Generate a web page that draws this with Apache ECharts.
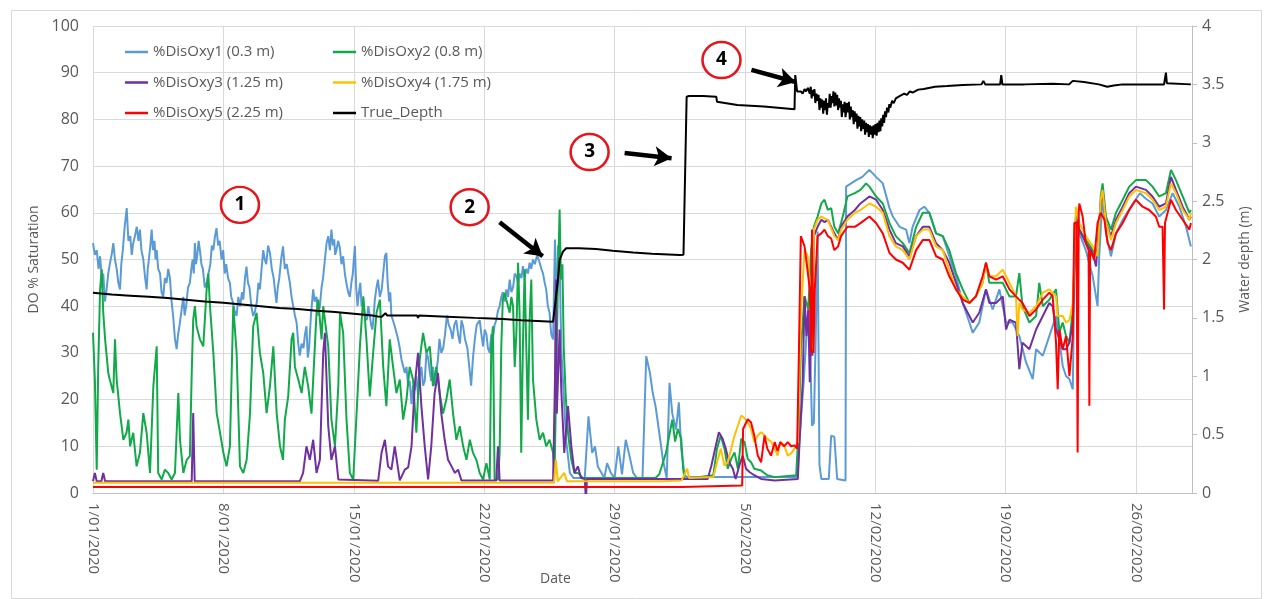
<!DOCTYPE html>
<html>
<head>
<meta charset="utf-8">
<script src="https://cdn.jsdelivr.net/npm/echarts@6/dist/echarts.min.js"></script>
<style>
html,body{margin:0;padding:0;background:#fff;}
#chart{width:1269px;height:599px;}
</style>
</head>
<body>
<div id="chart"></div>
<script>
// x values are days since 1/01/2020
const xTickLabels = ['1/01/2020','8/01/2020','15/01/2020','22/01/2020','29/01/2020','5/02/2020','12/02/2020','19/02/2020','26/02/2020'];

const disOxy1 = [[0,53.5],[0.1,51],[0.2,52],[0.3,48],[0.38,50.7],[0.47,46],[0.55,47],[0.64,41],[0.73,43.6],[0.82,47],[0.9,49],[1,51],[1.09,53.5],[1.18,50],[1.27,48],[1.36,45],[1.45,43.6],[1.52,49],[1.6,52],[1.7,57],[1.81,61],[1.9,54],[2,55],[2.08,51],[2.16,53.5],[2.25,55],[2.35,57],[2.44,54],[2.52,56.4],[2.6,52],[2.7,50],[2.8,46],[2.88,43.6],[2.94,48],[3,50],[3.08,53],[3.15,56.4],[3.22,52],[3.3,54],[3.36,50],[3.42,52],[3.5,48],[3.6,47],[3.68,43],[3.77,42],[3.86,46],[3.95,45],[4.04,48],[4.13,46],[4.22,41],[4.3,38],[4.4,33],[4.49,30.8],[4.57,34],[4.65,36],[4.75,39],[4.85,42],[4.92,38],[5,40],[5.1,44],[5.2,45],[5.28,48],[5.35,50],[5.41,47],[5.47,53.5],[5.53,49],[5.6,51],[5.67,54],[5.74,52],[5.82,49],[5.9,48],[6,44],[6.1,45],[6.2,47],[6.3,49],[6.38,53],[6.46,52],[6.55,55],[6.63,56.7],[6.72,53],[6.8,54],[6.9,50],[6.99,52],[7.07,47],[7.15,49],[7.25,46],[7.35,45],[7.42,42],[7.5,41],[7.6,39],[7.71,37.9],[7.8,42],[7.9,40],[8,43],[8.07,41.4],[8.16,46],[8.24,48.5],[8.32,45],[8.4,44],[8.5,40],[8.6,37.9],[8.7,39],[8.8,41],[8.88,45],[8.96,43.6],[9.05,48],[9.14,52],[9.22,50],[9.3,49],[9.4,53],[9.5,51.4],[9.6,48],[9.7,46],[9.78,43],[9.85,40.7],[9.92,44],[10,46],[10.1,50],[10.2,52.8],[10.3,48],[10.4,49],[10.48,47],[10.57,45],[10.66,42],[10.75,40],[10.84,38],[10.93,36.5],[11.02,32],[11.1,29.4],[11.2,32],[11.3,31],[11.38,34],[11.46,35.7],[11.53,29],[11.6,31],[11.7,38],[11.82,43.6],[11.9,41],[12,42],[12.09,38],[12.18,40],[12.27,44],[12.35,46],[12.45,50],[12.54,53.5],[12.63,55],[12.72,52],[12.8,56.4],[12.88,53],[12.95,54.3],[13,51],[13.07,52],[13.16,54],[13.25,52.5],[13.34,49],[13.43,50.7],[13.52,47],[13.6,45],[13.7,43],[13.79,42],[13.87,45],[13.95,47],[14,50],[14.06,52.9],[14.13,44],[14.2,40],[14.28,43],[14.35,45],[14.42,40],[14.5,41.4],[14.6,38],[14.7,37],[14.78,40],[14.86,38],[14.93,36],[15,35],[15.07,38],[15.13,41.4],[15.22,44],[15.3,45.7],[15.4,42],[15.5,43.6],[15.58,47],[15.67,50.7],[15.75,51.4],[15.82,45],[15.9,41],[15.96,43],[16.02,38],[16.1,37],[16.2,35.7],[16.3,36],[16.38,32.9],[16.47,31],[16.56,28.6],[16.65,29],[16.74,25.7],[16.83,27],[16.92,22.9],[17,24],[17.1,19],[17.18,23],[17.27,22],[17.36,25],[17.45,21],[17.54,25],[17.63,27],[17.72,23],[17.81,24],[17.9,30],[17.99,29],[18.08,26],[18.16,24],[18.25,27],[18.34,23],[18.43,26],[18.52,28.6],[18.6,33],[18.7,30],[18.8,31],[18.9,34],[19,38],[19.1,36],[19.2,35],[19.3,33],[19.4,36],[19.5,37],[19.6,34],[19.7,32],[19.78,37],[19.87,35.7],[19.97,33],[20.1,31],[20.2,27],[20.3,23],[20.4,29],[20.5,33],[20.6,36],[20.76,37],[20.85,34],[20.94,31.4],[21.03,35],[21.12,34],[21.2,31],[21.3,30],[21.38,34],[21.47,33],[21.56,36],[21.65,37],[21.74,39],[21.83,40],[21.92,42],[22,43],[22.1,41],[22.19,43.6],[22.28,42],[22.37,45.7],[22.46,43],[22.55,44],[22.64,47],[22.73,46.4],[22.82,45],[22.9,47],[23,46],[23.08,48.6],[23.17,46],[23.26,48],[23.35,47],[23.44,49.3],[23.53,48],[23.62,50],[23.72,49],[23.85,51],[23.92,50],[23.98,49.3],[24.07,48],[24.16,47],[24.25,45],[24.33,43.6],[24.42,40],[24.51,38.6],[24.6,34],[24.7,32.9],[24.8,54.3],[24.87,37],[24.96,53],[25.05,50],[25.14,31],[25.23,24],[25.4,11.4],[25.6,4.3],[25.8,3.2],[26.4,3.2],[26.6,16.4],[26.8,8.6],[26.95,10],[27.1,5.7],[27.3,4.3],[27.45,3.2],[27.6,6.4],[27.8,4.3],[28,3.2],[28.2,10],[28.4,4],[28.6,11.4],[28.8,8],[29,4.3],[29.2,3.2],[29.5,3.2],[29.7,29.3],[29.9,25.7],[30.05,21.4],[30.2,18.6],[30.4,12.9],[30.6,7],[30.8,3.2],[30.95,23.6],[31.1,17],[31.3,13.6],[31.45,19.4],[31.58,9.5],[31.76,3.8],[31.9,3.4],[37.8,3.4],[37.99,15],[38.15,23.7],[38.3,33.6],[38.4,39],[38.5,30.8],[38.6,14.4],[38.7,15],[38.8,33.6],[38.9,56],[39,6],[39.1,3],[39.5,3],[39.63,12.3],[39.8,12],[39.95,3],[40.4,2.7],[40.43,65.6],[40.97,67],[41.3,67.7],[41.68,69.2],[42.04,67.7],[42.4,66.3],[42.76,61],[42.94,59.2],[43.3,57],[43.65,56.4],[43.83,53.5],[44,57],[44.37,60.6],[44.63,61.3],[44.9,60],[45.26,55.6],[45.62,55],[45.97,50.7],[46.33,46.4],[46.69,40.7],[47.05,36.5],[47.23,34.3],[47.58,36.5],[47.94,43.6],[48.3,39.3],[48.66,43.6],[48.84,40],[49.02,36.5],[49.37,36.5],[49.73,33.6],[50.09,28],[50.45,24.4],[50.63,30.8],[50.99,29.4],[51.34,33.6],[51.7,37.9],[52.06,27.2],[52.24,25],[52.42,24.4],[52.6,22.2],[52.68,45],[52.77,59.2],[52.95,55.6],[53.3,52],[53.67,46.4],[53.93,40],[54.02,50.7],[54.2,63.5],[54.38,55.6],[54.65,50.7],[54.92,55.6],[55.28,58.5],[55.83,62],[56.2,64.2],[56.53,63],[56.88,62],[57.24,59.2],[57.6,60.6],[57.96,64.2],[58.32,61.3],[58.68,57],[58.94,52.8]];

const disOxy2 = [[0,34.3],[0.1,24.3],[0.2,5],[0.28,27],[0.38,43.6],[0.47,47.9],[0.55,38.6],[0.65,32.9],[0.82,25.7],[0.9,24.3],[1.09,21.4],[1.18,32.9],[1.27,24.3],[1.45,17.1],[1.63,11.4],[1.8,12.9],[1.9,15.7],[1.99,10],[2.16,12.9],[2.34,5.7],[2.52,8.6],[2.7,17.1],[2.88,12.9],[3.06,4.3],[3.24,22.9],[3.42,31.4],[3.5,4.3],[3.69,2.9],[3.86,5],[4.04,4.3],[4.22,2.9],[4.4,4.3],[4.58,21.4],[4.67,11.4],[4.85,4.3],[5.03,7.1],[5.2,7.9],[5.3,25.7],[5.38,37.1],[5.47,40],[5.56,35.7],[5.74,32.9],[5.92,31.4],[6.1,43.6],[6.19,47],[6.28,40],[6.46,30],[6.64,17.1],[6.82,12.9],[7,8.6],[7.17,5.7],[7.35,10],[7.53,40],[7.71,30],[7.89,5.7],[8.07,4.3],[8.25,7.1],[8.43,17.1],[8.6,35.7],[8.78,38.6],[8.96,30],[9.14,25.7],[9.32,17.1],[9.5,22.9],[9.68,31.4],[9.86,17.1],[10.04,10],[10.2,7.1],[10.3,15.7],[10.48,20.7],[10.66,32.9],[10.75,34.3],[10.84,27],[11.02,24.3],[11.2,21.4],[11.37,27],[11.55,22.9],[11.73,17],[11.91,31.4],[12,38.6],[12.09,41.4],[12.27,32.9],[12.36,40],[12.45,37],[12.63,31.4],[12.8,15.7],[12.99,10],[13.17,22.9],[13.26,38.6],[13.43,34.3],[13.61,15.7],[13.79,4.3],[13.97,2.9],[14.15,17],[14.33,31.4],[14.51,42.1],[14.68,32.9],[14.86,20.7],[15.04,30],[15.22,38.6],[15.4,41.4],[15.58,27],[15.75,18.6],[15.93,32.9],[16.11,27],[16.29,21.4],[16.47,24.3],[16.65,15.7],[16.83,20],[17,27],[17.18,24.3],[17.36,12.9],[17.54,28.6],[17.72,34.3],[17.9,30],[18.08,31.4],[18.25,22.9],[18.43,27],[18.61,21.4],[18.79,17],[18.97,20],[19.15,24.3],[19.33,17],[19.51,11.4],[19.69,14.3],[19.87,10],[20.05,7.1],[20.23,11.4],[20.4,8.6],[20.58,7.1],[20.76,4.3],[20.94,2.9],[21.12,6.4],[21.3,2.9],[21.38,31.4],[21.47,35.7],[21.56,2.9],[21.74,2.9],[21.83,8.6],[21.92,31.4],[22,41.4],[22.1,42.9],[22.19,41.4],[22.37,38.6],[22.46,42],[22.55,40],[22.64,27],[22.73,34.3],[22.82,49.3],[22.9,38.6],[22.99,8.6],[23.08,31.4],[23.17,47.9],[23.26,31.4],[23.35,15.7],[23.44,37],[23.53,45.7],[23.62,24.3],[23.8,15.7],[23.98,11.4],[24.16,12.9],[24.33,10],[24.51,11.4],[24.7,8.6],[24.78,4.3],[24.9,31.4],[24.96,45.7],[25.05,60.7],[25.12,45.7],[25.2,49],[25.27,31.4],[25.37,21.4],[25.5,12.9],[25.68,7.1],[25.85,4.3],[26.03,4.3],[26.3,3.2],[30.2,3.2],[30.4,4],[30.76,8.6],[31.1,15.7],[31.25,11],[31.4,13.7],[31.58,11.6],[31.68,5.2],[31.76,3],[33.3,3.8],[33.5,9.5],[33.7,12.3],[33.9,9.5],[34.08,5.2],[34.26,7.3],[34.44,8.7],[34.62,5.2],[34.8,11.6],[34.98,10.9],[35.15,7.3],[35.33,6.6],[35.5,5.2],[35.87,4.8],[36.2,3.8],[36.6,3.4],[37.75,3.8],[37.9,15.1],[38,30.8],[38.2,42.1],[38.4,39.3],[38.55,52],[38.7,57],[38.9,59.2],[39.1,62],[39.27,62.8],[39.45,60.6],[39.63,61],[39.8,57],[40,55.6],[40.16,57.8],[40.3,60],[40.5,63.5],[40.9,64.2],[41.2,64.9],[41.5,66.3],[41.68,65.6],[42.04,63.5],[42.4,62],[42.76,57.8],[43.1,55],[43.47,53.5],[43.83,51.4],[44.19,57],[44.55,60],[44.9,60],[45.26,55.6],[45.62,55],[45.97,52],[46.33,47.1],[46.69,43.6],[47.05,40.7],[47.4,42.1],[47.76,45],[47.94,49.3],[48.12,45],[48.48,45],[48.84,45],[49.2,42.1],[49.55,42.1],[49.73,47.1],[49.9,40],[50.27,36.5],[50.63,37.9],[50.8,45],[50.99,40],[51.34,41.4],[51.7,43.6],[51.88,34.5],[52.06,36.5],[52.24,33.6],[52.42,32.2],[52.6,39.3],[52.77,59.2],[52.95,56.4],[53.3,54.2],[53.67,52],[53.93,50.7],[54.1,63.5],[54.2,66.3],[54.38,59.2],[54.65,56.4],[54.92,60],[55.28,62.8],[55.63,65.6],[55.99,67],[56.53,67],[56.88,65.6],[57.24,63.5],[57.6,64.2],[57.87,69.2],[58.14,67],[58.5,63.5],[58.86,60],[58.94,60.6]];

const disOxy3 = [[0,2.5],[0.1,4.3],[0.2,2.5],[0.45,2.5],[0.55,4.3],[0.65,2.5],[5.3,2.5],[5.38,17.1],[5.46,2.5],[11.1,2.5],[11.28,4.3],[11.46,10],[11.64,7.1],[11.82,11.4],[12,4.3],[12.18,7.1],[12.36,30],[12.45,34.3],[12.63,14.3],[12.8,7.1],[12.99,10],[13.17,2.9],[15.31,2.6],[15.49,8.6],[15.67,11.4],[15.84,5.7],[16.02,5],[16.2,10],[16.47,2.7],[16.74,5],[16.92,5.5],[17.1,10],[17.27,22.9],[17.45,30],[17.63,18.6],[17.81,10],[17.99,2.9],[18.16,10],[18.34,21.4],[18.52,25.7],[18.7,17],[18.88,11.4],[19.06,7.1],[19.25,5.7],[19.43,4.3],[19.6,5],[19.78,2.7],[21.65,2.7],[21.74,10],[21.83,2.7],[24.7,2.7],[24.8,24],[24.85,45.7],[24.9,17],[25.05,35],[25.14,22],[25.3,8.6],[25.5,18.6],[25.68,10],[25.85,4.3],[26.03,5.7],[26.2,3.2],[26.4,3],[26.46,-1.4],[26.52,3],[33,3],[33.2,5.9],[33.4,9.5],[33.6,13],[33.8,11.6],[33.97,9.5],[34.15,6.6],[34.35,5.2],[34.5,3],[34.7,5.9],[34.88,8],[35.06,5.2],[35.24,4.5],[35.5,3.8],[35.87,3],[36.6,2.7],[37.84,3],[37.93,10.9],[38.1,23.7],[38.2,42.1],[38.3,33.6],[38.4,39.3],[38.48,23.7],[38.55,35],[38.62,29.4],[38.7,55],[38.9,57],[39.1,58.5],[39.27,58],[39.45,58.5],[39.8,55.6],[40,54.2],[40.16,57],[40.5,59.2],[40.9,60.6],[41.2,62],[41.68,63.5],[42.04,62.8],[42.4,60.6],[42.76,56.4],[43.1,53.5],[43.47,52.8],[43.83,50.7],[44.19,55],[44.55,57],[44.9,57],[45.26,53.5],[45.62,52],[45.97,49.3],[46.33,45],[46.69,40.7],[47.05,37.9],[47.23,36.5],[47.58,38.6],[47.94,43.6],[48.12,40.7],[48.48,40.7],[48.84,42.1],[49.02,35],[49.2,37.1],[49.55,36.5],[49.73,26.5],[49.9,32.2],[50.27,30.8],[50.63,35],[50.99,37.9],[51.34,40.7],[51.52,40],[51.7,35],[52.06,30.8],[52.24,30.8],[52.42,32.2],[52.6,36.5],[52.77,59.2],[52.95,56.4],[53.3,53.5],[53.67,51.4],[53.85,48.5],[54.1,62],[54.2,64.9],[54.38,57.8],[54.65,55],[54.92,58.5],[55.28,61.3],[55.63,64.2],[55.99,65.6],[56.53,64.9],[56.88,63.5],[57.24,61.3],[57.6,62],[57.87,67.7],[58.14,64.9],[58.5,61.3],[58.86,58.5],[58.94,59.2]];

const disOxy4 = [[0,2.2],[24.75,2.2],[24.85,7.1],[24.95,2.5],[25.3,4.3],[25.45,2.5],[30.5,2.5],[31.6,2.7],[31.9,5.2],[32,3.2],[33.3,3.4],[33.5,6.6],[33.7,9.5],[33.9,5.9],[34.08,6.6],[34.26,9.5],[34.44,12.3],[34.62,14.4],[34.8,16.6],[34.98,16],[35.15,15.1],[35.33,13.7],[35.5,10.9],[35.69,12.3],[35.87,13],[36.05,12.3],[36.2,11.6],[36.4,11],[36.6,9.5],[36.75,8],[36.9,10.9],[37.1,10.3],[37.3,8],[37.48,8.5],[37.66,9.5],[37.84,10.9],[38,37.9],[38.2,52],[38.37,50.7],[38.55,39.3],[38.62,30.8],[38.7,56.4],[38.9,58.5],[39.1,59.2],[39.27,58.8],[39.45,58.5],[39.8,55],[40,54.2],[40.16,56.4],[40.5,58.5],[40.9,60],[41.2,60.6],[41.68,62],[42.04,61.3],[42.4,60],[42.76,55],[43.1,52.8],[43.47,52],[43.83,50],[44.19,55],[44.55,56.4],[44.9,56.4],[45.26,52.8],[45.62,52],[45.97,47.8],[46.33,43.6],[46.69,42.1],[47.05,40.7],[47.4,42.1],[47.76,45],[47.94,49.3],[48.12,46.4],[48.48,46.4],[48.84,47.8],[49.2,45],[49.55,42.1],[49.64,33.6],[49.73,40.7],[49.9,39.3],[50.27,38.6],[50.63,40],[50.99,42.9],[51.34,43.6],[51.7,42.1],[51.79,37.9],[52.06,37.9],[52.24,36.5],[52.42,37],[52.6,40.7],[52.77,61.3],[52.95,57.8],[53.3,55],[53.67,52.8],[53.93,50.7],[54.1,62.8],[54.2,64.9],[54.38,57.8],[54.65,54.2],[54.92,57.8],[55.28,60.6],[55.63,63.5],[55.99,64.9],[56.53,64.2],[56.88,62.8],[57.24,60.6],[57.6,61.3],[57.87,66.3],[58.14,64.2],[58.5,60.6],[58.86,58.5],[58.94,60]];

const disOxy5 = [[0,1.3],[31.6,1.3],[31.7,1.6],[34.85,1.6],[34.9,13.7],[35.15,15.8],[35.33,15.1],[35.5,12.3],[35.69,8],[35.87,6.6],[36.05,12.3],[36.2,9.5],[36.4,8],[36.6,10.9],[36.75,9],[36.9,10.9],[37.1,10],[37.3,10.9],[37.48,10],[37.66,10.2],[37.8,9.5],[37.9,30.8],[38,55],[38.2,52.8],[38.4,46.4],[38.48,43.6],[38.55,30],[38.6,56.4],[38.68,30],[38.75,43.6],[38.9,55],[39.1,55.6],[39.27,56.4],[39.45,55],[39.63,54.5],[39.8,52],[40,52.8],[40.16,55],[40.5,57],[40.9,57],[41.2,57.8],[41.68,59.2],[42.04,57.8],[42.4,55.6],[42.76,51.4],[43.1,50],[43.47,49.3],[43.83,47.8],[44.19,52],[44.55,54.2],[44.9,54.2],[45.26,50.7],[45.62,50],[45.97,46.4],[46.33,43.6],[46.69,41.4],[47.05,40.7],[47.4,42.1],[47.76,46.4],[47.94,49.3],[48.12,46.4],[48.48,45.7],[48.84,46.4],[49.2,43.6],[49.55,42.1],[49.9,40.7],[50.27,37.9],[50.63,39.3],[50.99,41.4],[51.34,42.9],[51.52,42.1],[51.7,32.2],[51.79,22.2],[51.88,35],[52.06,30.8],[52.24,33.6],[52.42,25],[52.6,33.6],[52.68,57.8],[52.8,58],[52.86,8.7],[52.92,60],[52.95,62],[53.13,59.2],[53.3,53.5],[53.45,52],[53.49,18.7],[53.53,52],[53.75,50],[53.93,57.8],[54.1,60],[54.3,58.5],[54.47,53.5],[54.65,52],[54.92,55.6],[55.28,57.8],[55.63,60.6],[55.99,62.8],[56.35,61.3],[56.7,60.6],[57.06,59.2],[57.24,57],[57.42,57],[57.5,39.3],[57.55,57.8],[57.87,62.8],[58.14,60.6],[58.5,58.5],[58.86,56.4],[58.94,57.8]];

const trueDepth = [[0,1.716],[1,1.7],[2,1.69],[3,1.68],[4,1.67],[5,1.655],[6,1.64],[7,1.63],[8,1.615],[9,1.6],[10,1.585],[11,1.575],[12,1.56],[13,1.55],[14,1.535],[15,1.52],[15.3,1.512],[15.5,1.51],[15.7,1.54],[15.8,1.52],[16.5,1.52],[17.4,1.52],[17.45,1.5],[17.5,1.52],[19,1.51],[20.5,1.5],[21.04,1.497],[22,1.49],[23,1.48],[24.7,1.467],[24.8,1.47],[24.96,1.824],[25.05,1.996],[25.23,2.067],[25.4,2.096],[26.1,2.096],[27,2.09],[27.9,2.075],[29,2.06],[30,2.05],[31.5,2.039],[31.7,2.04],[31.87,3.394],[32,3.4],[32.74,3.4],[33.46,3.394],[33.5,3.352],[34.59,3.323],[36.02,3.31],[37.66,3.286],[37.7,3.58],[37.8,3.44],[38,3.44],[38.1,3.42],[38.2,3.46],[38.28,3.44],[38.38,3.47],[38.48,3.42],[38.53,3.48],[38.58,3.38],[38.63,3.45],[38.68,3.4],[38.73,3.46],[38.78,3.34],[38.84,3.42],[38.9,3.36],[38.95,3.41],[39,3.28],[39.05,3.38],[39.1,3.3],[39.15,3.37],[39.2,3.25],[39.25,3.36],[39.3,3.28],[39.35,3.38],[39.4,3.24],[39.45,3.34],[39.5,3.3],[39.55,3.42],[39.6,3.3],[39.65,3.4],[39.7,3.34],[39.75,3.44],[39.8,3.31],[39.85,3.43],[39.9,3.32],[39.95,3.41],[40,3.28],[40.05,3.38],[40.1,3.3],[40.15,3.36],[40.2,3.22],[40.25,3.33],[40.3,3.26],[40.35,3.35],[40.4,3.22],[40.47,3.34],[40.53,3.26],[40.58,3.35],[40.63,3.2],[40.68,3.31],[40.73,3.22],[40.78,3.28],[40.84,3.16],[40.89,3.27],[40.94,3.18],[40.99,3.25],[41.04,3.12],[41.09,3.23],[41.14,3.14],[41.19,3.22],[41.24,3.1],[41.29,3.2],[41.34,3.12],[41.4,3.19],[41.45,3.07],[41.5,3.17],[41.55,3.09],[41.6,3.16],[41.65,3.05],[41.7,3.15],[41.76,3.07],[41.81,3.14],[41.86,3.04],[41.91,3.15],[41.96,3.07],[42.01,3.16],[42.07,3.06],[42.12,3.17],[42.17,3.09],[42.22,3.19],[42.27,3.1],[42.32,3.21],[42.37,3.14],[42.42,3.24],[42.47,3.17],[42.52,3.27],[42.57,3.22],[42.63,3.3],[42.7,3.26],[42.75,3.33],[42.8,3.3],[42.9,3.36],[42.99,3.34],[43.1,3.38],[43.2,3.37],[43.3,3.4],[43.4,3.39],[43.55,3.42],[43.7,3.41],[43.85,3.44],[44,3.43],[44.3,3.455],[44.6,3.46],[45.2,3.48],[45.85,3.486],[46.7,3.495],[47.7,3.5],[47.8,3.53],[47.9,3.5],[48.7,3.5],[48.76,3.58],[48.82,3.5],[50,3.5],[51.5,3.505],[52.4,3.5],[52.6,3.53],[53.2,3.52],[54,3.5],[54.45,3.48],[54.8,3.49],[55.27,3.5],[57.5,3.5],[57.6,3.6],[57.65,3.51],[58.94,3.5]];

// annotation positions in data units [day, DO %]
const markerLabels = ['1','2','3','4'];
const markerCoords = [[7.89,61.7],[20.22,61.2],[26.66,73.0],[33.74,92.7]];
const arrowStarts = [[21.83,58.0],[28.54,72.8],[35.35,90.6]];
const arrowEnds = [[24.14,50.7],[31.06,71.7],[37.72,88.0]];

const seriesNames = ['%DisOxy1 (0.3 m)','%DisOxy2 (0.8 m)','%DisOxy3 (1.25 m)','%DisOxy4 (1.75 m)','%DisOxy5 (2.25 m)','True_Depth'];
const seriesColors = ['#5B9BD5','#12A94A','#7030A0','#FFC000','#FF0000','#000000'];
const seriesData = [disOxy1, disOxy2, disOxy3, disOxy4, disOxy5, trueDepth];

const TXT = '#595959';
const FONT = '"Open Sans", "Liberation Sans", Arial, sans-serif';
const chart = echarts.init(document.getElementById('chart'), null, {renderer:'canvas'});

const series = seriesNames.map((n,i)=>({
  name:n, type:'line', data:seriesData[i], yAxisIndex: i===5?1:0,
  symbol:'none', showSymbol:false, sampling:null, animation:false,
  lineStyle:{color:seriesColors[i], width:2},
  itemStyle:{color:seriesColors[i]},
  z: 2+i
}));

series.push({
  name:'annot', type:'line', data:[], yAxisIndex:0, symbol:'none', z:20,
  markPoint:{
    symbol:'circle', symbolSize:[38,36], silent:true, animation:false,
    itemStyle:{color:'#ffffff', borderColor:'#E8141B', borderWidth:2.5},
    label:{show:true, color:'#000', fontSize:19, fontWeight:'bold', fontFamily:FONT},
    data: markerCoords.map((c,i)=>({coord:c, value:markerLabels[i]}))
  },
  markLine:{
    silent:true, animation:false, symbol:['none','arrow'], symbolSize:[15,17],
    lineStyle:{color:'#000', width:4.5, type:'solid'},
    label:{show:false},
    data: arrowStarts.map((s,i)=>[{coord:s},{coord:arrowEnds[i]}])
  }
});

const legendText = {color:TXT, fontSize:15, lineHeight:16, fontFamily:FONT};
const legendBase = {orient:'vertical', top:44, padding:0, icon:'rect', itemWidth:23, itemHeight:2.5, itemGap:14.5, textStyle:legendText, selectedMode:false};
const option = {
  backgroundColor:'#fff',
  animation:false,
  grid:{left:93, right:77, top:26, bottom:106},
  legend:[
    Object.assign({data:[seriesNames[0],seriesNames[2],seriesNames[4]], left:125}, legendBase),
    Object.assign({data:[seriesNames[1],seriesNames[3],seriesNames[5]], left:333}, legendBase)
  ],
  xAxis:{
    type:'value', min:0, max:59, interval:7,
    axisLine:{show:true, lineStyle:{color:'#BFBFBF', width:1}},
    axisTick:{show:false},
    splitLine:{show:true, lineStyle:{color:'#D9D9D9', width:1}},
    axisLabel:{rotate:-90, margin:10, color:TXT, fontSize:15, showMaxLabel:false, fontFamily:FONT,
      formatter:(v)=> (v%7===0 ? (xTickLabels[v/7]||'') : '')}
  },
  yAxis:[
    {type:'value', min:0, max:100, interval:10, name:'DO % Saturation', nameLocation:'middle', nameGap:50,
      nameTextStyle:{color:TXT, fontSize:14, fontFamily:FONT},
      axisLine:{show:false}, axisTick:{show:false},
      splitLine:{show:true, lineStyle:{color:'#D9D9D9', width:1}},
      axisLabel:{color:TXT, fontSize:16, margin:14, fontFamily:FONT}},
    {type:'value', min:0, max:4, interval:0.5, position:'right', name:'Water depth (m)', nameLocation:'middle', nameGap:46,
      nameTextStyle:{color:TXT, fontSize:14, fontFamily:FONT},
      axisLine:{show:true, lineStyle:{color:'#BFBFBF', width:1}},
      axisTick:{show:true, length:5, lineStyle:{color:'#BFBFBF'}},
      splitLine:{show:false},
      axisLabel:{color:TXT, fontSize:16, margin:10, fontFamily:FONT}}
  ],
  graphic:[
    {type:'rect', left:9, top:8, shape:{width:1250, height:588}, style:{fill:'none', stroke:'#D9D9D9', lineWidth:1}, silent:true, z:-1},
    {type:'text', left:540, top:572, style:{text:'Date', fill:TXT, fontSize:14, fontFamily:FONT}, silent:true}
  ],
  series: series
};
chart.setOption(option);
</script>
</body>
</html>
